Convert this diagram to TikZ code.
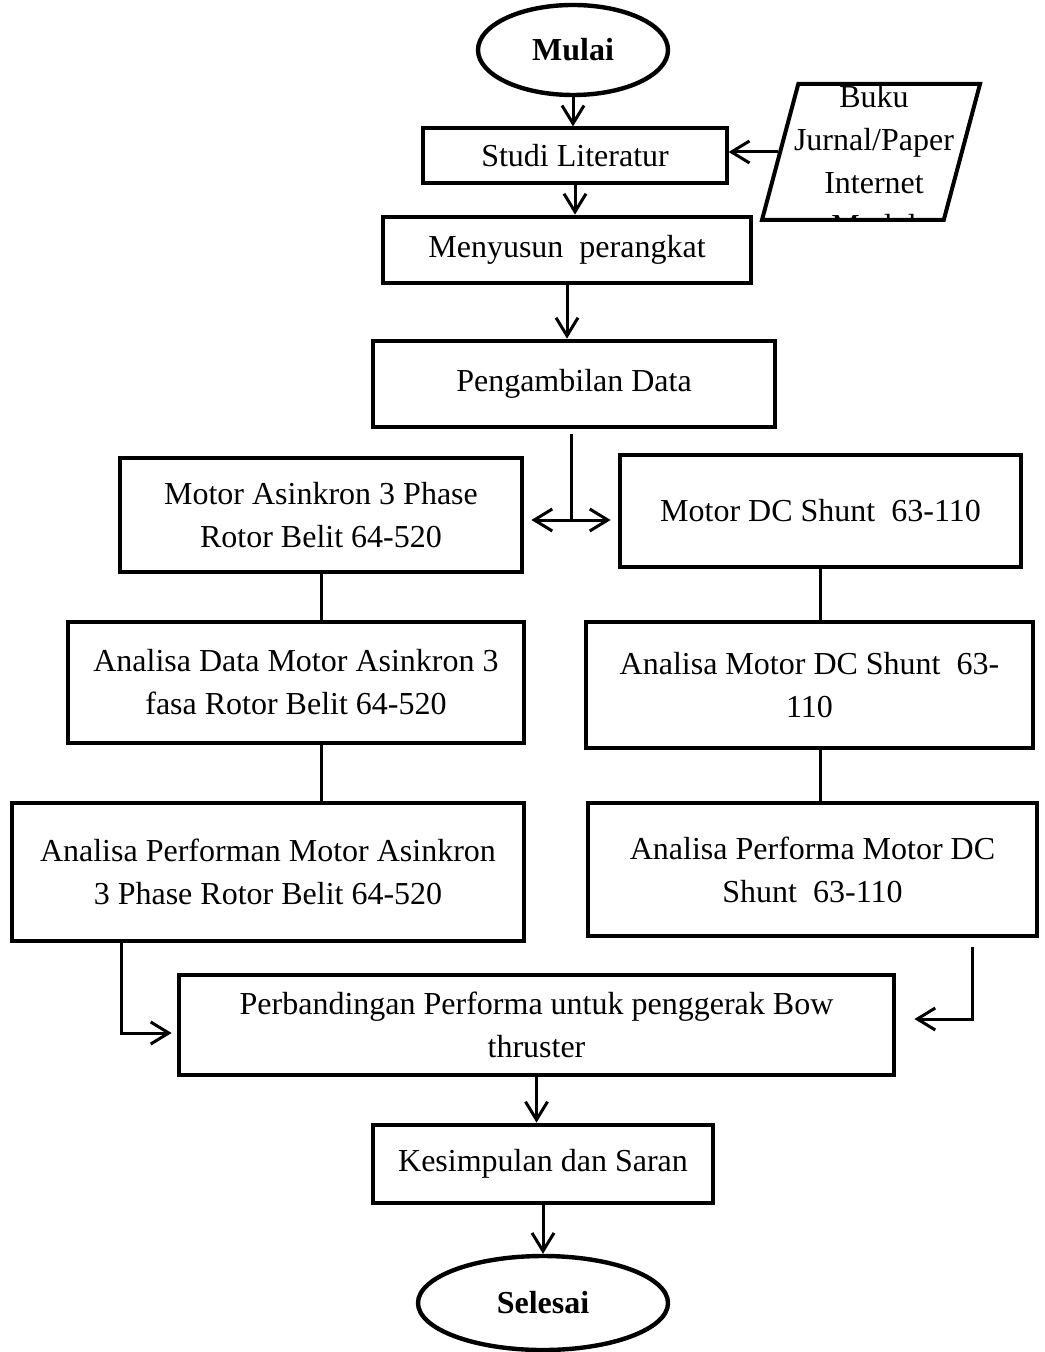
\documentclass[tikz,border=0pt]{standalone}
\usepackage{fontspec}
\setmainfont{Liberation Serif}
\usetikzlibrary{arrows.meta,shapes.geometric}

\begin{document}
\begin{tikzpicture}[x=0.5pt,y=-0.5pt,
    >={Straight Barb[length=9pt,width=11pt]},
    line width=1.5pt,
    font=\fontsize{16}{21.5}\selectfont]
    \tikzstyle{proses}=[draw,rectangle,line width=2.4pt,align=center,inner sep=0pt]
    \tikzstyle{terminal}=[draw,ellipse,line width=2.2pt,inner sep=0pt,
      font=\fontsize{16}{21.5}\selectfont\bfseries]
    \tikzstyle{masukan}=[draw,trapezium,trapezium left angle=76,
      trapezium right angle=104,trapezium stretches=true,line width=2pt]

    \useasboundingbox (0,0) rectangle (1044,1352);

    \node[terminal,minimum width=95pt,minimum height=45pt] (mulai) at (573,50) {Mulai};
    \node[proses,line width=1.6pt,minimum width=152pt,minimum height=27.5pt] (studi) at (575,155.5) {Studi Literatur};
    \node[masukan,minimum width=109pt,minimum height=68pt,
      path picture={\node[align=center] at ([xshift=1.5pt,yshift=-4.5pt]path picture bounding box.center)
        {Buku\\Jurnal/Paper\\Internet\\Modul};}] (sumber) at (871,152) {};
    \node[proses,minimum width=184pt,minimum height=33pt] (menyusun) at (567,250) {Menyusun~ perangkat};
    \node[proses,minimum width=201pt,minimum height=43pt] (pengambilan) at (574,384) {Pengambilan Data};

    % cabang kiri
    \node[proses,minimum width=201pt,minimum height=57pt] (asinkron) at (321,515)
      {Motor Asinkron 3 Phase\\Rotor Belit 64-520};
    \node[proses,minimum width=228pt,minimum height=60.5pt] (anasinkron) at (296,682.5)
      {Analisa Data Motor Asinkron 3\\fasa Rotor Belit 64-520};
    \node[proses,minimum width=256pt,minimum height=69pt] (perfasinkron) at (268,872)
      {Analisa Performan Motor Asinkron\\3 Phase Rotor Belit 64-520};

    % cabang kanan
    \node[proses,minimum width=200.5pt,minimum height=56pt] (dcshunt) at (820.5,511)
      {Motor DC Shunt~ 63-110};
    \node[proses,minimum width=223.5pt,minimum height=63pt] (andc) at (809.5,685)
      {Analisa Motor DC Shunt~ 63-\\110};
    \node[proses,minimum width=224.5pt,minimum height=66.5pt] (perfdc) at (812.5,869.5)
      {Analisa Performa Motor DC\\Shunt~ 63-110};

    \node[proses,minimum width=357.5pt,minimum height=50pt] (banding) at (536.5,1025)
      {Perbandingan Performa untuk penggerak Bow\\thruster};
    \node[proses,minimum width=170pt,minimum height=39pt] (kesimpulan) at (543,1164)
      {Kesimpulan dan Saran};
    \node[terminal,minimum width=125pt,minimum height=47pt] (selesai) at (543,1303) {Selesai};

    \coordinate (cabang) at (571,520);
    \coordinate (kiri) at (121,1033);
    \coordinate (kanan) at (972,1019);

    \draw[->] (mulai.south) -- (mulai.south |- studi.north);
    \draw[->] (sumber.west) -- (studi.east |- sumber.west);
    \draw[->] (studi.south) -- (studi.south |- menyusun.north);
    \draw[->] (menyusun.south) -- (menyusun.south |- pengambilan.north);
    \draw ([yshift=-2.5pt]cabang |- pengambilan.south) -- (cabang);
    \draw[<->,shorten <=3.5pt,shorten >=3.5pt] (asinkron.east |- cabang) -- (dcshunt.west |- cabang);

    \draw (asinkron.south) -- (asinkron.south |- anasinkron.north);
    \draw (asinkron.south |- anasinkron.south) -- (asinkron.south |- perfasinkron.north);
    \draw (dcshunt.south) -- (dcshunt.south |- andc.north);
    \draw (dcshunt.south |- andc.south) -- (dcshunt.south |- perfdc.north);

    \draw[->,shorten >=2.5pt] (kiri |- perfasinkron.south) -- (kiri) -- (banding.west |- kiri);
    \draw[->,shorten >=9pt] ([yshift=-4.5pt]kanan |- perfdc.south) -- (kanan) -- (banding.east |- kanan);

    \draw[->] (banding.south) -- (banding.south |- kesimpulan.north);
    \draw[->] (kesimpulan.south) -- (selesai.north);
\end{tikzpicture}
\end{document}
